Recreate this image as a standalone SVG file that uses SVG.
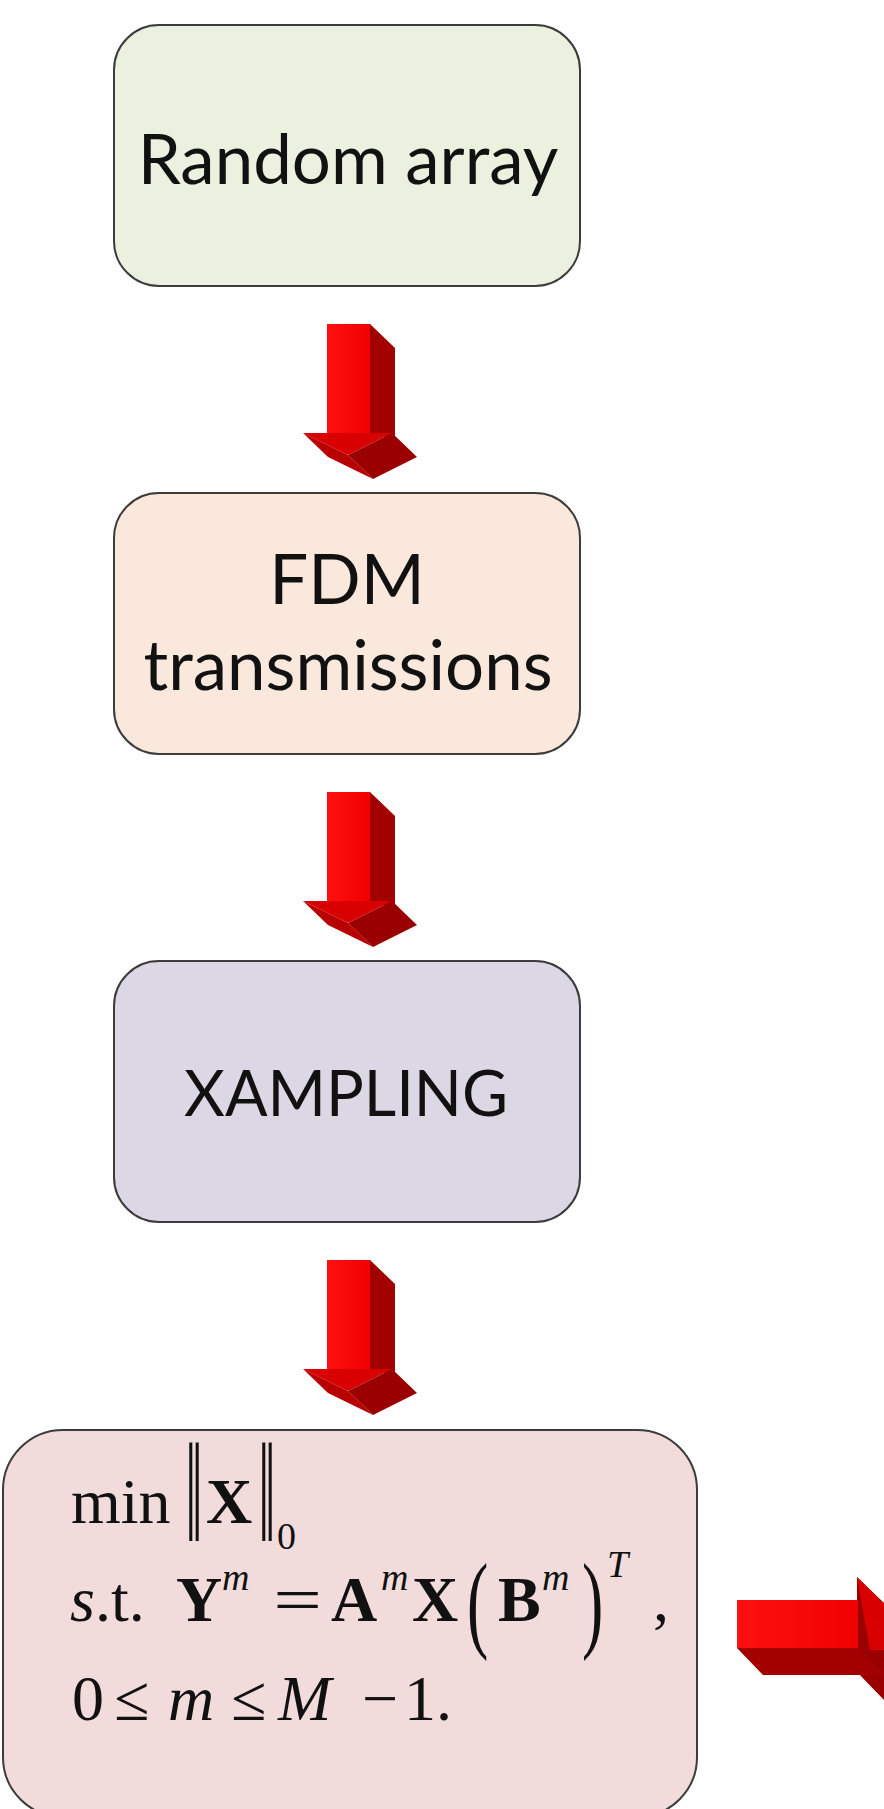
<svg xmlns="http://www.w3.org/2000/svg" width="884" height="1809" viewBox="0 0 884 1809">
<style>
.box{stroke:#3c3c3c;stroke-width:2}
.lbl{font-family:Lato,"Liberation Sans",sans-serif;font-size:69px;fill:#111;text-anchor:middle}
.m{font-family:"Liberation Serif","Times New Roman",serif;font-size:64px;fill:#111}
.b{font-weight:bold}
.i{font-style:italic}
.sup{font-size:38px;font-style:italic}
.front{fill:url(#gf)}
.side{fill:#a30000}
.headf{fill:#d80000}
.heads{fill:#9a0000}
.heads2{fill:#b80000}
</style>
<defs>
<linearGradient id="gf" x1="0" y1="0" x2="1" y2="0">
<stop offset="0" stop-color="#ff1010"/>
<stop offset="1" stop-color="#f00000"/>
</linearGradient>
<g id="darrow">
<polygon class="side" points="67,0 92,24 92,116 67,109"/>
<rect class="front" x="24" y="0" width="43" height="110"/>
<polygon class="heads2" points="0,109 45,131 70,155 25,133"/>
<polygon class="heads" points="45,131 89,109 114,133 70,155"/>
<polygon class="headf" points="0,109 89,109 45,131"/>
</g>
</defs>
<rect width="884" height="1809" fill="#ffffff"/>
<g id="node-random-array">
<rect class="box" x="114" y="25" width="466" height="261" rx="45" fill="#ebf0df"/>
<text class="lbl" x="348" y="184">Random array</text>
</g>
<g id="node-fdm">
<rect class="box" x="114" y="493" width="466" height="261" rx="45" fill="#fbe8dc"/>
<text class="lbl" x="347" y="604">FDM</text>
<text class="lbl" x="348" y="690">transmissions</text>
</g>
<g id="node-xampling">
<rect class="box" x="114" y="961" width="466" height="261" rx="45" fill="#dcd7e5"/>
<text class="lbl" x="346" y="1116" style="font-size:63px">XAMPLING</text>
</g>
<g id="node-optimization">
<rect class="box" x="3" y="1430" width="694" height="387" rx="60" fill="#f1dcdb"/>
<text class="m" x="71" y="1523">min</text>
<text class="m" transform="translate(0,1541) scale(1,2.23)" x="185" y="0">‖</text>
<text class="m b" x="206" y="1523">X</text>
<text class="m" transform="translate(0,1541) scale(1,2.23)" x="258" y="0">‖</text>
<text class="m" x="277" y="1549" style="font-size:38px">0</text>
<text class="m" y="1621"><tspan class="i" x="70">s</tspan><tspan x="95">.t.</tspan><tspan class="b" x="176">Y</tspan><tspan class="sup" x="222" dy="-31">m</tspan></text>
<text class="m" transform="translate(276,1621) scale(1.35,1)" x="-2" y="0">=</text>
<text class="m" y="1621"><tspan class="b" x="331">A</tspan><tspan class="sup" x="381" dy="-31">m</tspan><tspan class="b" x="412" dy="31">X</tspan></text>
<text class="m" transform="translate(0,1621) scale(1,1.69)" x="467" y="10">(</text>
<text class="m b" x="498" y="1621">B</text>
<text class="m sup" x="542" y="1590">m</text>
<text class="m" transform="translate(0,1621) scale(1,1.69)" x="582" y="10">)</text>
<text class="m sup" x="607" y="1577">T</text>
<text class="m" x="653" y="1621">,</text>
<text class="m" y="1720"><tspan x="72">0</tspan><tspan x="114">≤</tspan><tspan class="i" x="168">m</tspan><tspan x="231">≤</tspan><tspan class="i" x="278">M</tspan><tspan x="362">−</tspan><tspan x="404">1.</tspan></text>
</g>
<g id="connectors">
<use href="#darrow" transform="translate(303,324)"/>
<use href="#darrow" transform="translate(303,792)"/>
<use href="#darrow" transform="translate(303,1260)"/>
<g id="right-arrow">
<polygon class="heads" points="857,1577 884,1603 884,1700 857,1672"/>
<polygon class="side" points="737,1648 858,1648 884,1675 763,1675"/>
<rect class="front" x="737" y="1600" width="121" height="48"/>
<polygon class="headf" points="857,1577 884,1604 884,1650 870,1650"/>
</g>
</g>
</svg>
